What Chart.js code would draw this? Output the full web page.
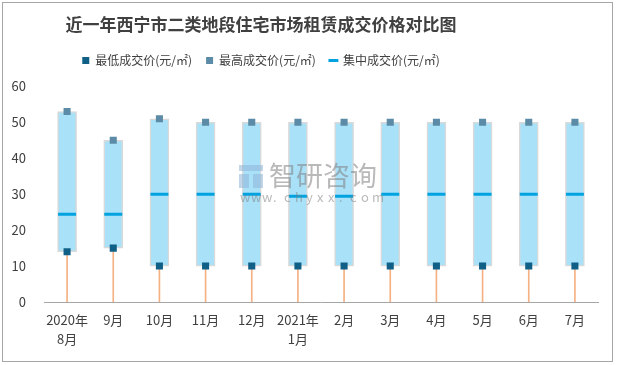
<!DOCTYPE html>
<html>
<head>
<meta charset="utf-8">
<script src="https://cdn.jsdelivr.net/npm/chart.js@4/dist/chart.umd.min.js"></script>
<style>
  html, body { margin: 0; padding: 0; background: #fff; }
  #wrap { width: 617px; height: 365px; }
</style>
</head>
<body>
<div id="wrap"><canvas id="rentChart" width="617" height="365"></canvas></div>
<script>
// Months on the x axis
const months = [["2020年", "8月"], "9月", "10月", "11月", "12月", ["2021年", "1月"], "2月", "3月", "4月", "5月", "6月", "7月"];

// Prices (元/㎡)
const lowPrices = [14, 15, 10, 10, 10, 10, 10, 10, 10, 10, 10, 10];
const highPrices = [53, 45, 51, 50, 50, 50, 50, 50, 50, 50, 50, 50];
const midPrices = [24.4, 24.4, 30, 30, 30, 29.4, 29.4, 30, 30, 30, 30, 30];

const yTicks = [0, 10, 20, 30, 40, 50, 60];

const font = "'Noto Sans CJK SC', 'Microsoft YaHei', sans-serif";

// Title and legend sit left of centre in the original,
// and there is extra room under the legend
const shiftPlugin = {
  id: "shift",
  beforeUpdate(chart) {
    const legend = chart.legend;
    if (legend && !legend._patched) {
      const fit = legend.fit;
      legend.fit = function () {
        fit.call(this);
        this.height += 10;
      };
      legend._patched = true;
    }
  },
  afterLayout(chart) {
    const dx = -38;
    [chart.titleBlock, chart.legend].forEach((box) => {
      if (box) {
        box.left += dx;
        box.right += dx;
      }
    });
  },
};

// Frame and watermark
const decorPlugin = {
  id: "decor",
  afterDraw(chart) {
    const c = chart.ctx;
    c.save();
    c.strokeStyle = "#a6a6a6";
    c.lineWidth = 1;
    c.strokeRect(2.5, 2.5, 610, 359);

    c.globalAlpha = 0.55;
    c.fillStyle = "#7f7f7f";
    c.font = "27px " + font;
    c.textBaseline = "middle";
    c.fillText("智研咨询", 269, 176);
    c.font = "13px " + font;
    const url = "www.chyxx.com";
    for (let i = 0; i < url.length; i++) {
      c.fillText(url[i], 240 + i * 11, 197);
    }
    c.fillStyle = "#8fb4d9";
    c.fillRect(239, 165, 24, 6);
    c.fillRect(239, 174, 10, 14);
    c.fillRect(253, 174, 10, 14);
    c.restore();
  },
};

new Chart(document.getElementById("rentChart"), {
  data: {
    labels: months,
    datasets: [
      {
        type: "line",
        label: "最低成交价(元/㎡)",
        data: lowPrices,
        showLine: false,
        pointStyle: "rect",
        pointRadius: 5,
        pointHoverRadius: 5,
        pointBorderWidth: 0,
        pointBackgroundColor: "#0f5f87",
        backgroundColor: "#0f5f87",
        borderColor: "#0f5f87",
        order: 0,
      },
      {
        type: "line",
        label: "最高成交价(元/㎡)",
        data: highPrices,
        showLine: false,
        pointStyle: "rect",
        pointRadius: 5,
        pointHoverRadius: 5,
        pointBorderWidth: 0,
        pointBackgroundColor: "#5b8ba6",
        backgroundColor: "#5b8ba6",
        borderColor: "#5b8ba6",
        order: 1,
      },
      {
        type: "line",
        label: "集中成交价(元/㎡)",
        data: midPrices,
        showLine: false,
        pointStyle: "line",
        pointRadius: 9,
        pointHoverRadius: 9,
        pointBorderWidth: 3,
        pointBorderColor: "#00a3df",
        borderColor: "#00a3df",
        backgroundColor: "#00a3df",
        order: 2,
      },
      {
        type: "bar",
        label: "range",
        data: lowPrices.map((v, i) => [v, highPrices[i]]),
        backgroundColor: "#a8e1f8",
        borderColor: "#d9d9d9",
        borderWidth: 1.5,
        borderSkipped: false,
        barThickness: 19,
        grouped: false,
        order: 3,
      },
      {
        type: "bar",
        label: "stem",
        data: lowPrices.map((v) => [0, v]),
        backgroundColor: "#f4b183",
        borderWidth: 0,
        barThickness: 1,
        grouped: false,
        order: 4,
      },
    ],
  },
  options: {
    responsive: false,
    animation: false,
    layout: { padding: { left: 0, right: 19, top: 6, bottom: 8 } },
    plugins: {
      tooltip: { enabled: false },
      title: {
        display: true,
        text: "近一年西宁市二类地段住宅市场租赁成交价格对比图",
        color: "#404040",
        font: { family: font, size: 17, weight: "bold" },
        padding: { top: 8, bottom: 6 },
      },
      legend: {
        position: "top",
        labels: {
          filter: (item) => item.text !== "range" && item.text !== "stem",
          usePointStyle: true,
          boxHeight: 7,
          boxWidth: 7,
          padding: 14,
          color: "#404040",
          font: { family: font, size: 12 },
        },
      },
    },
    scales: {
      x: {
        grid: { display: false, drawTicks: false },
        border: { color: "#a6a6a6", width: 1 },
        ticks: {
          color: "#404040",
          font: { family: font, size: 13, lineHeight: 1.5 },
          padding: 8,
          maxRotation: 0,
          autoSkip: false,
        },
      },
      y: {
        min: 0,
        max: 60,
        afterBuildTicks: (axis) => {
          axis.ticks = yTicks.map((v) => ({ value: v }));
        },
        afterFit: (axis) => {
          axis.width = 44;
        },
        grid: { display: false, drawTicks: false },
        border: { display: false },
        ticks: {
          color: "#404040",
          font: { family: font, size: 13 },
          padding: 18,
        },
      },
    },
  },
  plugins: [shiftPlugin, decorPlugin],
});
</script>
</body>
</html>
